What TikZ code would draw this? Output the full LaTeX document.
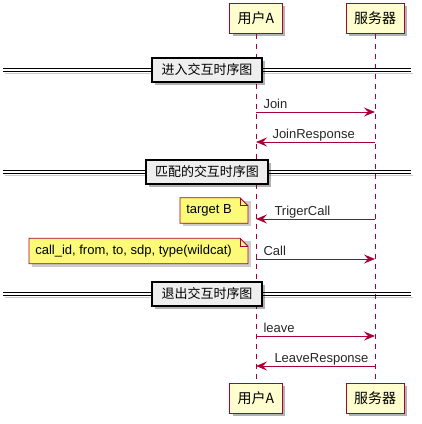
\documentclass[tikz,border=0pt]{standalone}
\usepackage{fontspec}
\setmainfont{Liberation Sans}
\newfontfamily\cjk{Noto Sans CJK SC}
\usetikzlibrary{arrows.meta,shadows,backgrounds,positioning}

\definecolor{umlred}{HTML}{A80036}
\definecolor{umlbox}{HTML}{FEFECE}
\definecolor{umlnote}{HTML}{FBFB77}
\definecolor{umlgrey}{HTML}{EEEEEE}

\tikzset{
  umlshadow/.style={drop shadow={shadow xshift=3pt, shadow yshift=-3pt, fill=black, opacity=.3}},
  actor/.style={draw=umlred, fill=umlbox, line width=1pt, minimum height=30pt,
    inner xsep=8pt, font=\cjk\fontsize{14}{16}\selectfont, umlshadow},
  lifeline/.style={draw=umlred, line width=.8pt, dash pattern=on 5pt off 5pt},
  msg/.style={draw=umlred, line width=1pt, -{Stealth[length=11pt,width=9pt,inset=4pt]}},
  msglabel/.style={anchor=base west, inner sep=0pt, font=\fontsize{13}{15}\selectfont, text=black!85},
  divline/.style={draw=black, line width=1pt},
  divshadow/.style={draw=black, opacity=.2, line width=1pt},
  divider/.style={draw=black, fill=umlgrey, line width=1.5pt,
    minimum height=24pt, font=\cjk\fontsize{13}{15}\selectfont, umlshadow},
  note/.style={anchor=east, inner xsep=6pt, inner ysep=0pt, minimum height=25pt,
    font=\fontsize{13}{15}\selectfont},
  notepaper/.style={draw=umlred, fill=umlnote, line width=.8pt},
}

% folded note outline behind a text node
\newcommand{\notefold}[1]{%
  \begin{pgfonlayer}{background}
  \fill[black, opacity=.2] ([shift={(3pt,-3pt)}]#1.south west) rectangle ([shift={(13pt,-3pt)}]#1.north east);
  \draw[notepaper] (#1.south west) -- (#1.north west) -- ([xshift=2pt]#1.north east)
    -- ([xshift=10pt,yshift=-8pt]#1.north east) -- ([xshift=10pt]#1.south east) -- cycle;
  \draw[notepaper, fill=none] ([xshift=2pt]#1.north east) |- ([xshift=10pt,yshift=-8pt]#1.north east);
  \end{pgfonlayer}}

\begin{document}
\begin{tikzpicture}[x=1pt,y=-1pt]
\useasboundingbox (0,0) rectangle (422,424);

% participants, top and bottom
\node[actor] (userTop) at (256,18) {用户A};
\node[actor] (serverTop) at (375,18) {服务器};
\node[actor] (userBot) at (256,398) {用户A};
\node[actor] (serverBot) at (375,398) {服务器};

% lifelines
\draw[lifeline] (userTop) -- (userBot);
\draw[lifeline] (serverTop) -- (serverBot);

% dividers
\foreach \y/\w/\name/\txt in {70/110/divJoin/进入交互时序图, 172/122/divMatch/匹配的交互时序图, 294/110/divLeave/退出交互时序图} {
  \draw[divshadow] (5,\y+3.5) -- (413,\y+3.5);
  \draw[divline] (3,\y-1.5) -- (411,\y-1.5);
  \draw[divline] (3,\y+1.5) -- (411,\y+1.5);
  \node[divider, minimum width=\w pt] (\name) at (207,\y) {\txt};
}

% message end points on the lifelines
\coordinate (joinA) at (userTop |- 0,112);
\coordinate (joinS) at (serverTop |- 0,112);
\coordinate (respA) at (userTop |- 0,142);
\coordinate (respS) at (serverTop |- 0,142);
\coordinate (trigA) at (userTop |- 0,219);
\coordinate (trigS) at (serverTop |- 0,219);
\coordinate (callA) at (userTop |- 0,259);
\coordinate (callS) at (serverTop |- 0,259);
\coordinate (leaveA) at (userTop |- 0,336);
\coordinate (leaveS) at (serverTop |- 0,336);
\coordinate (lrespA) at (userTop |- 0,366);
\coordinate (lrespS) at (serverTop |- 0,366);

% messages
\draw[msg] (joinA) -- (joinS) node[msglabel, pos=0, xshift=7pt, yshift=4pt] {Join};
\draw[msg] (respS) -- (respA) node[msglabel, pos=1, xshift=16pt, yshift=4pt] {JoinResponse};
\draw[msg] (trigS) -- (trigA) node[msglabel, pos=1, xshift=18pt, yshift=4pt] {TrigerCall};
\draw[msg] (callA) -- (callS) node[msglabel, pos=0, xshift=7pt, yshift=4pt] {Call};
\draw[msg] (leaveA) -- (leaveS) node[msglabel, pos=0, xshift=7pt, yshift=4pt] {leave};
\draw[msg] (lrespS) -- (lrespA) node[msglabel, pos=1, xshift=18pt, yshift=4pt] {LeaveResponse};

% notes left of user A
\node[note] (noteTarget) at (238,210.5) {target B};
\notefold{noteTarget}
\node[note] (noteCall) at (238,251) {call\_id, from, to, sdp, type(wildcat)};
\notefold{noteCall}

\end{tikzpicture}
\end{document}
